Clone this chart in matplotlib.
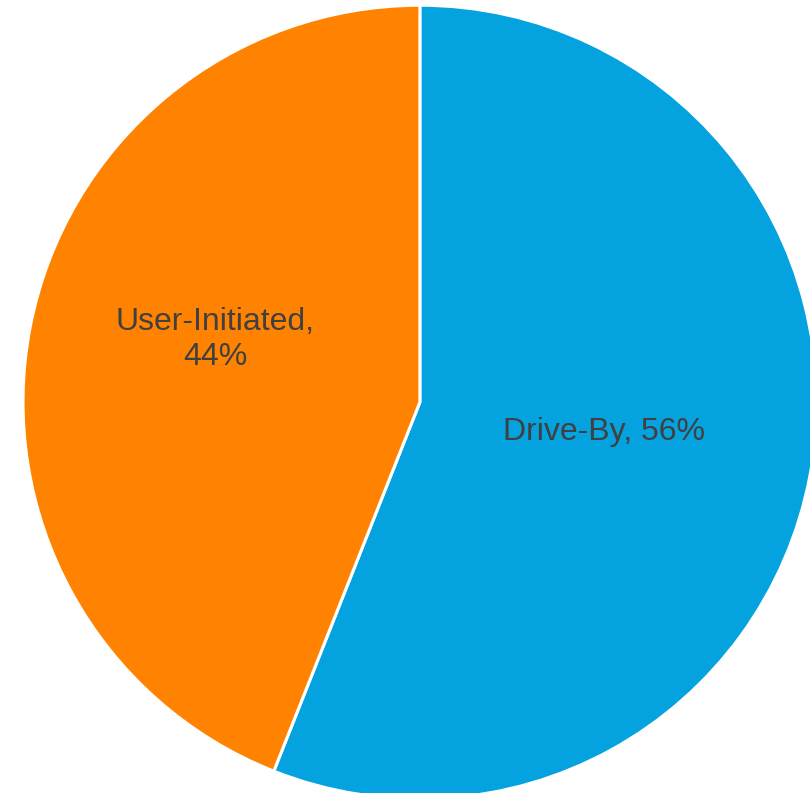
import numpy as np
import matplotlib.pyplot as plt

plt.rcParams['font.family'] = ['Liberation Sans', 'DejaVu Sans']

# share of installs by type
categories = ['Drive-By', 'User-Initiated']
shares = [56, 44]
colors = ['#04A3DF', '#FF8300']

fig = plt.figure(figsize=(8.10, 7.93), dpi=100)
ax = fig.add_axes([0.0284, -0.0076, 0.980, 1.001])

wedges, _ = ax.pie(shares, colors=colors, startangle=90, counterclock=False,
                   radius=1.0, wedgeprops=dict(edgecolor='white', linewidth=2.2))

# label placement: distance from centre and angle nudge for each slice
label_dist = [0.47, 0.54]
label_nudge = [1.5, -6.3]
label_text = ['{}, {}%'.format(categories[0], shares[0]),
              '{},\n{}%'.format(categories[1], shares[1])]

for w, d, n, t in zip(wedges, label_dist, label_nudge, label_text):
    mid = np.deg2rad((w.theta1 + w.theta2) / 2 + n)
    ax.text(d * np.cos(mid), d * np.sin(mid), t, ha='center', va='center',
            fontsize=23, color='#404040', linespacing=1.22)

ax.set_xlim(-1, 1)
ax.set_ylim(-1, 1)
ax.axis('off')

fig.savefig('out.png', dpi=100)
